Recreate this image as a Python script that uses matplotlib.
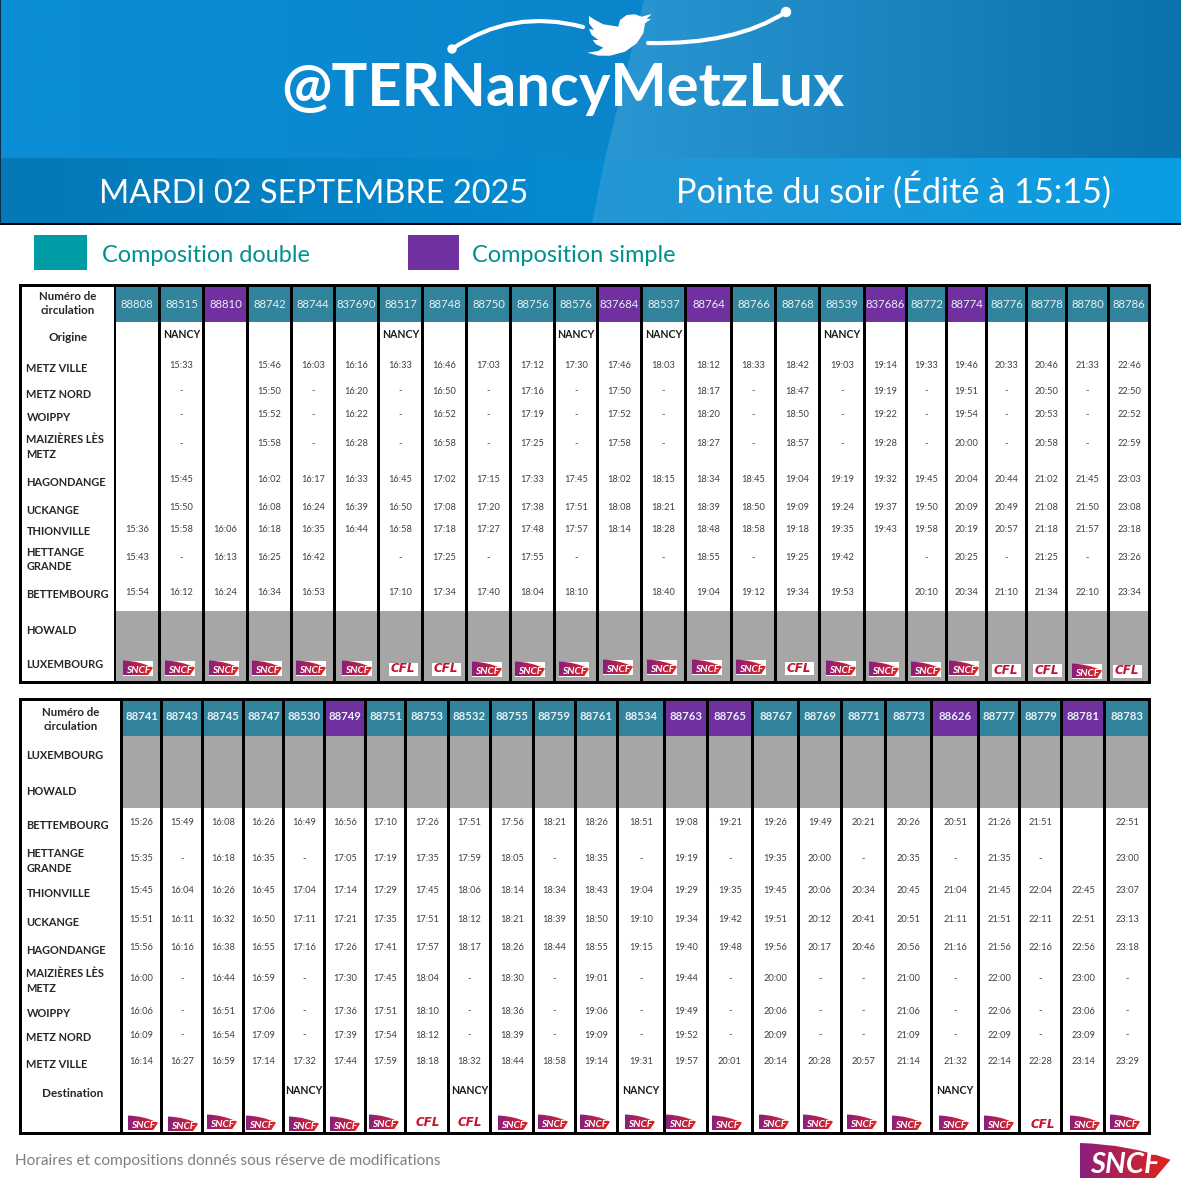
#!/usr/bin/env python3
# fiche horaires TER Nancy-Metz-Lux, redrawn in pixel coordinates

import numpy as np
import matplotlib
matplotlib.use("Agg")
import matplotlib.pyplot as plt
from matplotlib.colors import to_rgb
from matplotlib.patches import Rectangle, PathPatch, Polygon, Circle
from matplotlib.path import Path

plt.rcParams['font.family'] = ['Lato', 'DejaVu Sans']

# ---- data: northbound table (Metz -> Luxembourg)
trains_n = ["88808", "88515", "88810", "88742", "88744", "837690", "88517", "88748", "88750", "88756", "88576", "837684",
            "88537", "88764", "88766", "88768", "88539", "837686", "88772", "88774", "88776", "88778", "88780", "88786"]
simple_n = ["88810", "837684", "88764", "837686", "88774"]
origin_nancy = ["88515", "88517", "88576", "88537", "88539"]
logos_n = list("SSSSSSCCSSSSSSSCSSSSCCSC")

stations_n = [["METZ VILLE"], ["METZ NORD"], ["WOIPPY"], ["MAIZIÈRES LÈS", "METZ"], ["HAGONDANGE"], ["UCKANGE"],
              ["THIONVILLE"], ["HETTANGE", "GRANDE"], ["BETTEMBOURG"], ["HOWALD"], ["LUXEMBOURG"]]

metz_ville_n = ["", "15:33", "", "15:46", "16:03", "16:16", "16:33", "16:46", "17:03", "17:12", "17:30", "17:46", "18:03", "18:12", "18:33", "18:42", "19:03", "19:14", "19:33", "19:46", "20:33", "20:46", "21:33", "22:46"]
metz_nord_n = ["", "-", "", "15:50", "-", "16:20", "-", "16:50", "-", "17:16", "-", "17:50", "-", "18:17", "-", "18:47", "-", "19:19", "-", "19:51", "-", "20:50", "-", "22:50"]
woippy_n = ["", "-", "", "15:52", "-", "16:22", "-", "16:52", "-", "17:19", "-", "17:52", "-", "18:20", "-", "18:50", "-", "19:22", "-", "19:54", "-", "20:53", "-", "22:52"]
maizieres_n = ["", "-", "", "15:58", "-", "16:28", "-", "16:58", "-", "17:25", "-", "17:58", "-", "18:27", "-", "18:57", "-", "19:28", "-", "20:00", "-", "20:58", "-", "22:59"]
hagondange_n = ["", "15:45", "", "16:02", "16:17", "16:33", "16:45", "17:02", "17:15", "17:33", "17:45", "18:02", "18:15", "18:34", "18:45", "19:04", "19:19", "19:32", "19:45", "20:04", "20:44", "21:02", "21:45", "23:03"]
uckange_n = ["", "15:50", "", "16:08", "16:24", "16:39", "16:50", "17:08", "17:20", "17:38", "17:51", "18:08", "18:21", "18:39", "18:50", "19:09", "19:24", "19:37", "19:50", "20:09", "20:49", "21:08", "21:50", "23:08"]
thionville_n = ["15:36", "15:58", "16:06", "16:18", "16:35", "16:44", "16:58", "17:18", "17:27", "17:48", "17:57", "18:14", "18:28", "18:48", "18:58", "19:18", "19:35", "19:43", "19:58", "20:19", "20:57", "21:18", "21:57", "23:18"]
hettange_n = ["15:43", "-", "16:13", "16:25", "16:42", "", "-", "17:25", "-", "17:55", "-", "", "-", "18:55", "-", "19:25", "19:42", "", "-", "20:25", "-", "21:25", "-", "23:26"]
bettembourg_n = ["15:54", "16:12", "16:24", "16:34", "16:53", "", "17:10", "17:34", "17:40", "18:04", "18:10", "", "18:40", "19:04", "19:12", "19:34", "19:53", "", "20:10", "20:34", "21:10", "21:34", "22:10", "23:34"]

# ---- data: southbound table (Luxembourg -> Metz)
trains_s = ["88741", "88743", "88745", "88747", "88530", "88749", "88751", "88753", "88532", "88755", "88759", "88761",
            "88534", "88763", "88765", "88767", "88769", "88771", "88773", "88626", "88777", "88779", "88781", "88783"]
simple_s = ["88749", "88763", "88765", "88626", "88781"]
dest_nancy = ["88530", "88532", "88534", "88626"]
logos_s = list("SSSSSSSCCSSSSSSSSSSSSCSS")

stations_s = [["LUXEMBOURG"], ["HOWALD"], ["BETTEMBOURG"], ["HETTANGE", "GRANDE"], ["THIONVILLE"], ["UCKANGE"],
              ["HAGONDANGE"], ["MAIZIÈRES LÈS", "METZ"], ["WOIPPY"], ["METZ NORD"], ["METZ VILLE"]]

bettembourg_s = ["15:26", "15:49", "16:08", "16:26", "16:49", "16:56", "17:10", "17:26", "17:51", "17:56", "18:21", "18:26", "18:51", "19:08", "19:21", "19:26", "19:49", "20:21", "20:26", "20:51", "21:26", "21:51", "", "22:51"]
hettange_s = ["15:35", "-", "16:18", "16:35", "-", "17:05", "17:19", "17:35", "17:59", "18:05", "-", "18:35", "-", "19:19", "-", "19:35", "20:00", "-", "20:35", "-", "21:35", "-", "", "23:00"]
thionville_s = ["15:45", "16:04", "16:26", "16:45", "17:04", "17:14", "17:29", "17:45", "18:06", "18:14", "18:34", "18:43", "19:04", "19:29", "19:35", "19:45", "20:06", "20:34", "20:45", "21:04", "21:45", "22:04", "22:45", "23:07"]
uckange_s = ["15:51", "16:11", "16:32", "16:50", "17:11", "17:21", "17:35", "17:51", "18:12", "18:21", "18:39", "18:50", "19:10", "19:34", "19:42", "19:51", "20:12", "20:41", "20:51", "21:11", "21:51", "22:11", "22:51", "23:13"]
hagondange_s = ["15:56", "16:16", "16:38", "16:55", "17:16", "17:26", "17:41", "17:57", "18:17", "18:26", "18:44", "18:55", "19:15", "19:40", "19:48", "19:56", "20:17", "20:46", "20:56", "21:16", "21:56", "22:16", "22:56", "23:18"]
maizieres_s = ["16:00", "-", "16:44", "16:59", "-", "17:30", "17:45", "18:04", "-", "18:30", "-", "19:01", "-", "19:44", "-", "20:00", "-", "-", "21:00", "-", "22:00", "-", "23:00", "-"]
woippy_s = ["16:06", "-", "16:51", "17:06", "-", "17:36", "17:51", "18:10", "-", "18:36", "-", "19:06", "-", "19:49", "-", "20:06", "-", "-", "21:06", "-", "22:06", "-", "23:06", "-"]
metz_nord_s = ["16:09", "-", "16:54", "17:09", "-", "17:39", "17:54", "18:12", "-", "18:39", "-", "19:09", "-", "19:52", "-", "20:09", "-", "-", "21:09", "-", "22:09", "-", "23:09", "-"]
metz_ville_s = ["16:14", "16:27", "16:59", "17:14", "17:32", "17:44", "17:59", "18:18", "18:32", "18:44", "18:58", "19:14", "19:31", "19:57", "20:01", "20:14", "20:28", "20:57", "21:14", "21:32", "22:14", "22:28", "23:14", "23:29"]

# ---- layout, all in image pixels
cols_n = [(116, 158), (161, 202), (205, 246), (249, 290), (293, 333), (336, 377), (380, 421), (424, 465), (468, 509), (512, 553), (556, 596), (599, 640),
          (643, 684), (687, 730), (733, 774), (777, 818), (821, 863), (866, 905), (908, 945), (948, 985), (988, 1025), (1028, 1065), (1068, 1107), (1110, 1148)]
cols_s = [(123, 160), (163, 201), (204, 242), (245, 282), (285, 323), (326, 364), (367, 404), (407, 447), (450, 489), (492, 532), (535, 574), (577, 616),
          (619, 663), (666, 706), (709, 751), (754, 797), (800, 840), (843, 884), (887, 930), (933, 977), (980, 1018), (1021, 1060), (1063, 1103), (1106, 1148)]
logo_x_n = [138, 180, 224, 267, 311, 357, 403, 446, 487, 530, 574, 618, 662, 707, 751, 799, 841, 884, 926, 964, 1006, 1047, 1087, 1127]
logo_y_n = [668, 668, 668, 668, 668, 668, 669, 669, 669, 669, 669, 667, 667, 667, 667, 668, 668, 669, 669, 668, 670, 670, 671, 671]
logo_x_s = [143, 183, 222, 261, 304, 345, 384, 428, 470, 513, 553, 595, 640, 681, 727, 774, 818, 862, 907, 954, 999, 1043, 1085, 1125]
logo_y_s = [1123, 1124, 1122, 1123, 1124, 1124, 1122, 1123, 1123, 1123, 1122, 1122, 1122, 1122, 1123, 1122, 1122, 1122, 1123, 1123, 1123, 1124, 1123, 1122]

TEAL = "#31849b"
PURPLE = "#7030a0"
GREY = "#a6a6a6"
VALUE_COL = "#3f3f3f"
LABEL_COL = "#262626"

W = 1181
fig = plt.figure(figsize=(W / 100, W / 100), dpi=100, facecolor="white")
ax = fig.add_axes([0, 0, 1, 1])


def rect(x0, y0, x1, y1, color, z=1):
    ax.add_patch(Rectangle((x0, y0), x1 - x0, y1 - y0, facecolor=color, edgecolor="none", zorder=z))


def gradient(x0, y0, x1, y1, c0, c1, clip, z=1):
    # horizontal colour ramp clipped to a patch
    t = np.linspace(0, 1, 64)[None, :, None]
    img = (1 - t) * np.array(to_rgb(c0)) + t * np.array(to_rgb(c1))
    im = ax.imshow(img, extent=(x0, x1, y1, y0), aspect="auto", zorder=z, interpolation="bilinear")
    clip.set_facecolor("none")
    clip.set_edgecolor("none")
    ax.add_patch(clip)
    im.set_clip_path(clip)


def sncf_logo(cx, cy, w, h, fs, box=True, z=4):
    x0, x1 = cx - w / 2, cx + w / 2
    y0, y1 = cy - h / 2, cy + h / 2
    if box:
        rect(x0, y0, x1, y1, "white", z)
    verts = [(x0, y0), (x0 + 0.55 * w, y0 + 0.04 * h), (x1, y0 + 0.48 * h), (x1 - 0.17 * w, y1), (x0, y1), (x0, y0)]
    codes = [Path.MOVETO, Path.CURVE3, Path.CURVE3, Path.LINETO, Path.LINETO, Path.CLOSEPOLY]
    shape = PathPatch(Path(verts, codes))
    gradient(x0, y0, x1, y1, "#8a1f7d", "#e2231a", shape, z + 0.1)
    ax.text(cx, cy + 0.14 * h, "SNCF", color="white", fontsize=fs, fontweight="bold", style="italic",
            ha="center", va="center", zorder=z + 0.2)


def cfl_logo(cx, cy, w, h, fs, z=4):
    rect(cx - w / 2, cy - h / 2, cx + w / 2, cy + h / 2, "white", z)
    ax.text(cx, cy, "CFL", color="#c8102e", fontsize=fs, fontweight="bold", style="italic",
            ha="center", va="center", zorder=z + 0.2, family=["DejaVu Sans"])


def draw_table(outer, label_x, cols, head_bottom, trains, simple, station_labels, value_rows, logos, logo_x, logo_y,
               grey_band, nancy, nancy_y, side_label, side_y, head_y, head_cy, head_weight):
    left, top, right, bottom = outer
    rect(left, top, right, bottom, "black", 1)
    rect(label_x[0], top + 3, label_x[1], bottom - 3, "white", 2)
    label_cx = (label_x[0] + label_x[1]) / 2
    for line, y in zip(["Numéro de", "circulation"], head_y):
        ax.text(label_cx, y, line, fontsize=8.3, fontweight="bold", color=LABEL_COL, ha="center", va="center", zorder=5)
    ax.text(side_label[0], side_y, side_label[1], fontsize=8.5, fontweight="bold", color=LABEL_COL, ha="center", va="center", zorder=5)

    for i, (x0, x1) in enumerate(cols):
        cx = (x0 + x1) / 2
        rect(x0, top + 3, x1, bottom - 3, "white", 2)
        rect(x0, top + 3, x1, head_bottom, PURPLE if trains[i] in simple else TEAL, 3)
        rect(x0, grey_band[0], x1, grey_band[1], GREY, 3)
        ax.text(cx, head_cy, trains[i], color="#e8f1f4", fontsize=8.2, fontweight=head_weight, ha="center", va="center", zorder=5)
        if trains[i] in nancy:
            ax.text(cx, nancy_y, "NANCY", color="#1a1a1a", fontsize=7.6, fontweight="bold", ha="center", va="center", zorder=5)
        for y, row in value_rows:
            if row[i]:
                ax.text(cx, y, row[i], color=VALUE_COL, fontsize=6.7, ha="center", va="center", zorder=5)
        if logos[i] == "S":
            sncf_logo(logo_x[i], logo_y[i], 30, 15, 7.3)
        else:
            cfl_logo(logo_x[i], logo_y[i], 29, 13, 8.6)

    for lines, ys in station_labels:
        for line, y in zip(lines, ys):
            ax.text(26.5, y, line, fontsize=7.9, fontweight="bold", color=LABEL_COL, ha="left", va="center", zorder=5)


# ---- banner
rect(0, 0, W, 224, "#0a86cc", 0)
left_poly = Polygon([(0, 0), (644, 0), (605, 158), (0, 158)], closed=True)
gradient(0, 0, 644, 158, "#0a8ed6", "#0a85cb", left_poly)
right_poly = Polygon([(644, 0), (W, 0), (W, 158), (605, 158)], closed=True)
gradient(605, 0, W, 158, "#2a97d2", "#0a72ad", right_poly)
foot_left = Polygon([(0, 158), (605, 158), (592, 223), (0, 223)], closed=True)
gradient(0, 158, 605, 223, "#0678b6", "#058bd3", foot_left)
foot_right = Polygon([(605, 158), (W, 158), (W, 223), (592, 223)], closed=True)
gradient(592, 158, W, 223, "#2596d6", "#0a9de2", foot_right)
rect(0, 223, W, 225, "black", 2)
rect(0, 0, 1, 224, "#06304a", 2)

# twitter arcs and bird
arc_left = Path([(452, 49), (512, 8), (583, 27)], [Path.MOVETO, Path.CURVE3, Path.CURVE3])
arc_right = Path([(648, 43), (735, 45), (786, 12)], [Path.MOVETO, Path.CURVE3, Path.CURVE3])
for arc in (arc_left, arc_right):
    ax.add_patch(PathPatch(arc, facecolor="none", edgecolor="white", lw=3, capstyle="round", zorder=3))
ax.add_patch(Circle((452, 49), 4, color="white", zorder=3))
ax.add_patch(Circle((786, 12), 4.5, color="white", zorder=3))
bird = [(589, 16), (595, 20), (603.3, 24.3), (618.3, 26.7), (620, 20), (626.7, 15), (635, 14.3), (641.7, 16.7), (651.7, 14),
        (646.7, 19), (651, 19), (645, 23.3), (643.3, 33.3), (636.7, 43.3), (625, 51.7), (610, 55.7), (598.3, 55.7), (587.3, 52.7),
        (598.3, 51), (603.3, 47.7), (596, 44.3), (592.7, 40), (598.3, 40), (591.7, 35), (589, 29), (594, 30), (589, 23.3)]
ax.add_patch(Polygon(bird, closed=True, facecolor="white", edgecolor="none", zorder=3))

ax.text(563, 89, "@TERNancyMetzLux", color="white", fontsize=43, fontweight="bold", ha="center", va="center", zorder=3)
ax.text(314, 203, "MARDI 02 SEPTEMBRE 2025", color="white", fontsize=23.4, ha="center", va="baseline", zorder=3)
ax.text(894, 203, "Pointe du soir (Édité à 15:15)", color="white", fontsize=24.7, ha="center", va="baseline", zorder=3)

# ---- legend
rect(34, 235, 87, 270, "#009ca6")
rect(408, 235, 459, 270, PURPLE)
ax.text(102, 255, "Composition double", color="#00918f", fontsize=16.9, ha="left", va="center")
ax.text(472, 255, "Composition simple", color="#00918f", fontsize=16.9, ha="left", va="center")

# ---- timetables
ys_n = [365, 391, 414.5, 444, 479, 507.5, 529, 558, 592.5]
rows_n = [metz_ville_n, metz_nord_n, woippy_n, maizieres_n, hagondange_n, uckange_n, thionville_n, hettange_n, bettembourg_n]
labels_y_n = [[368], [394], [417.5], [439.5, 454], [482], [510], [531.5], [552, 567], [595], [630], [665]]
draw_table((19, 284, 1151, 684), (22, 114), cols_n, 322, trains_n, simple_n, list(zip(stations_n, labels_y_n)),
           list(zip(ys_n, rows_n)), logos_n, logo_x_n, logo_y_n, (611, 681), origin_nancy, 334,
           (68, "Origine"), 337.5, (296, 311), 304, "normal")

ys_s = [822.5, 858.5, 890.5, 919.5, 947.5, 978.5, 1011, 1035, 1062]
rows_s = [bettembourg_s, hettange_s, thionville_s, uckange_s, hagondange_s, maizieres_s, woippy_s, metz_nord_s, metz_ville_s]
labels_y_s = [[755.5], [791.5], [825.5], [853.5, 868.5], [893.5], [922.5], [950.5], [973.5, 988.5], [1013.5], [1037.5], [1064.5]]
draw_table((19, 698, 1151, 1135), (22, 120), cols_s, 736, trains_s, simple_s, list(zip(stations_s, labels_y_s)),
           list(zip(ys_s, rows_s)), logos_s, logo_x_s, logo_y_s, (736, 808), dest_nancy, 1090.5,
           (73, "Destination"), 1093.5, (712, 727), 716.5, "bold")

# ---- footer
ax.text(15, 1161.5, "Horaires et compositions donnés sous réserve de modifications", color="#7f7f7f", fontsize=11.1, ha="left", va="center")
sncf_logo(1125, 1160.5, 91, 35, 21, box=False)

ax.set_xlim(0, W)
ax.set_ylim(W, 0)
ax.axis("off")
fig.savefig("out.png", dpi=100, facecolor="white")
